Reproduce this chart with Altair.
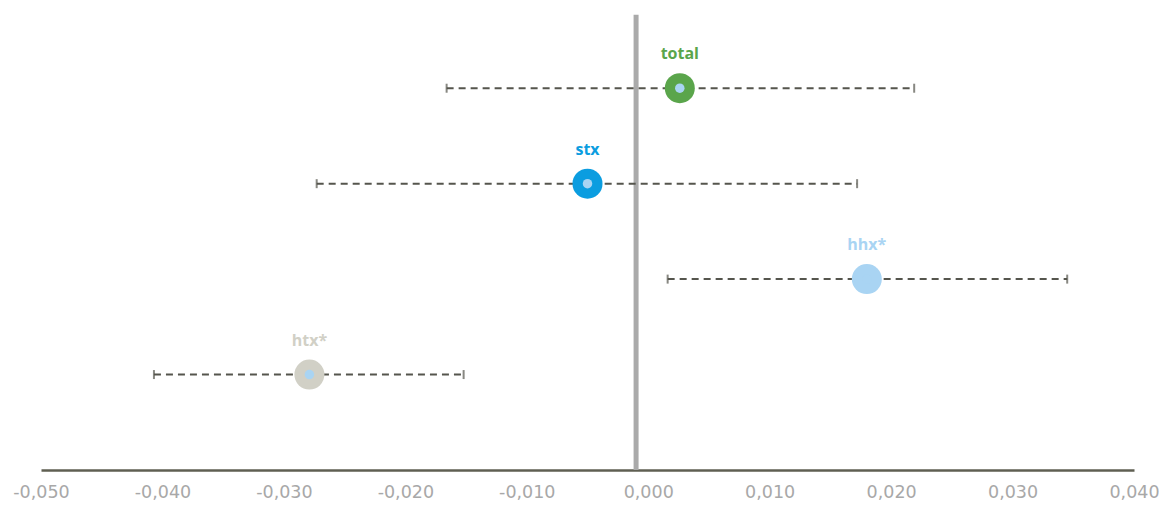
import altair as alt
import pandas as pd

names = ["total", "stx", "hhx*", "htx*"]
rows = [4, 3, 2, 1]
estimates = [0.0026, -0.0050, 0.0180, -0.0279]
lower = [-0.0166, -0.0273, 0.0016, -0.0407]
upper = [0.0219, 0.0172, 0.0345, -0.0152]
colors = ["#5aa54b", "#0b9de0", "#a9d4f3", "#d1d0c6"]
inner_colors = ["#a9d4f3", "#a9d4f3", "#a9d4f3", "#a9d4f3"]
tick_values = [-0.05, -0.04, -0.03, -0.02, -0.01, 0.0, 0.01, 0.02, 0.03, 0.04]
zero_line_x = -0.001

df = pd.DataFrame({
    "name": names, "row": rows, "est": estimates, "lo": lower, "hi": upper,
    "color": colors, "inner": inner_colors,
})
caps = pd.DataFrame({"row": rows * 2, "x": lower + upper})
zero = pd.DataFrame({"x": [zero_line_x], "y": [0.0], "y2": [4.77]})

xscale = alt.Scale(domain=[-0.05, 0.04], nice=False, zero=False)
yscale = alt.Scale(domain=[0, 4.83], nice=False, zero=False)
xax = alt.Axis(
    values=tick_values, grid=False, ticks=False, domainColor="#5f5f52", domainWidth=2.5,
    labelColor="#a8a8a8", labelFontSize=17.5, labelFont="DejaVu Sans", labelPadding=13,
    labelFlush=False, labelOverlap=False,
    labelExpr="replace(replace(format(datum.value, '.3f'), '.', ','), '\u2212', '-')",
    title=None,
)

base = alt.Chart(df)

zero_rule = alt.Chart(zero).mark_rule(color="#aaaaaa", strokeWidth=5).encode(
    x=alt.X("x:Q", scale=xscale, axis=xax),
    y=alt.Y("y:Q", scale=yscale, axis=None),
    y2="y2:Q",
)

bars = base.mark_rule(color="#55554d", strokeWidth=2, strokeDash=[7, 5]).encode(
    x=alt.X("lo:Q", scale=xscale), x2="hi:Q", y=alt.Y("row:Q", scale=yscale)
)

cap_marks = alt.Chart(caps).mark_tick(orient="vertical", size=9, thickness=2, color="#55554d").encode(
    x=alt.X("x:Q", scale=xscale), y=alt.Y("row:Q", scale=yscale)
)

outer = base.mark_circle(size=900, opacity=1).encode(
    x=alt.X("est:Q", scale=xscale), y=alt.Y("row:Q", scale=yscale),
    color=alt.Color("color:N", scale=None),
)
inner = base.mark_circle(size=90, opacity=1).encode(
    x=alt.X("est:Q", scale=xscale), y=alt.Y("row:Q", scale=yscale),
    color=alt.Color("inner:N", scale=None),
)
labels = base.mark_text(dy=-34, fontSize=16, fontWeight="bold", font="Open Sans").encode(
    x=alt.X("est:Q", scale=xscale), y=alt.Y("row:Q", scale=yscale),
    text="name:N", color=alt.Color("color:N", scale=None),
)

chart = alt.layer(zero_rule, bars, cap_marks, outer, inner, labels).properties(
    width=1093, height=461,
    autosize=alt.AutoSizeParams(type="none"),
    padding={"left": 33, "top": 1, "right": 25, "bottom": 30},
).configure_view(stroke=None)

chart.save("out.html", embed_options={"renderer": "svg", "actions": False})
